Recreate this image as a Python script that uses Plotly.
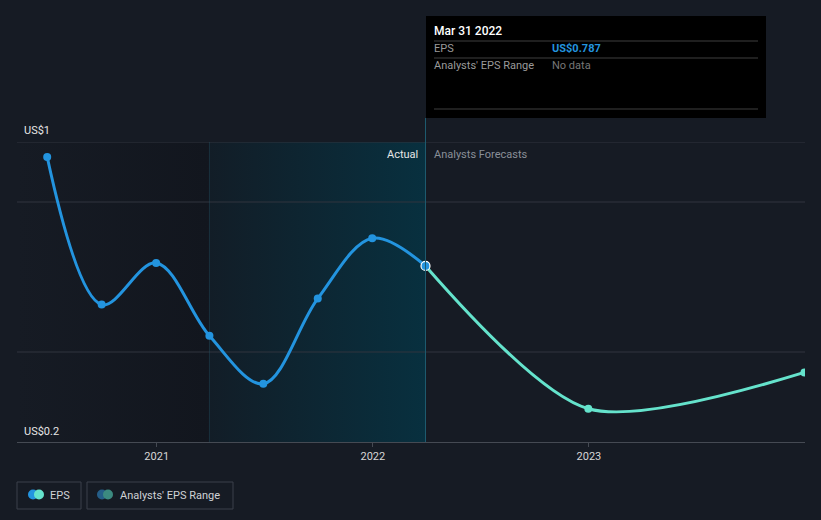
import plotly.graph_objects as go

# ---- data ----
actual_dates = ["2020-06-30", "2020-09-30", "2020-12-31", "2021-03-31",
                "2021-06-30", "2021-09-30", "2021-12-31", "2022-03-31"]
actual_eps = [1.150, 0.658, 0.797, 0.554, 0.394, 0.678, 0.879, 0.787]

forecast_dates = ["2022-03-31", "2022-12-31", "2023-12-31"]
forecast_eps = [0.787, 0.311, 0.432]

x_ticks = ["2021-01-01", "2022-01-01", "2023-01-01"]
x_tick_labels = ["2021", "2022", "2023"]
y_grid = [0.5, 1.0, 1.2]

x_start, x_end = "2020-05-10", "2024-01-01"
past_start = "2021-03-31"   # start of shaded "last year" band
today = "2022-03-31"

BG = "#161b24"
BLUE = "#2394df"
TEAL = "#65e3cc"

W, H = 821, 520
L, R, T, B = 17, 16, 142, 78
PW, PH = W - L - R, H - T - B


def px(x):
    return (x - L) / PW


def py(y):
    return (H - B - y) / PH


fig = go.Figure()

# left darker band
fig.add_trace(go.Scatter(
    x=[x_start, past_start, past_start, x_start, x_start],
    y=[0.2, 0.2, 1.2, 1.2, 0.2], mode="lines", line=dict(width=0),
    fill="toself", fillgradient=dict(type="horizontal",
                                     colorscale=[[0, "#161b24"], [1, "#12161e"]]),
    hoverinfo="skip", showlegend=False))
# shaded past-year band
fig.add_trace(go.Scatter(
    x=[past_start, today, today, past_start, past_start],
    y=[0.2, 0.2, 1.2, 1.2, 0.2], mode="lines", line=dict(width=0),
    fill="toself", fillgradient=dict(type="horizontal",
                                     colorscale=[[0, "#121d27"], [1, "#08303f"]]),
    hoverinfo="skip", showlegend=False))

# gridlines drawn above the bands
for g in y_grid:
    fig.add_trace(go.Scatter(
        x=[x_start, x_end], y=[g, g], mode="lines",
        line=dict(color="#30353e", width=1),
        hoverinfo="skip", showlegend=False))
# band edge lines
fig.add_trace(go.Scatter(
    x=[past_start, past_start], y=[0.2, 1.2], mode="lines",
    line=dict(color="rgba(40,90,110,0.35)", width=1),
    hoverinfo="skip", showlegend=False))

# forecast line
fig.add_trace(go.Scatter(
    x=forecast_dates, y=forecast_eps, mode="lines+markers",
    line=dict(color=TEAL, width=3, shape="spline", smoothing=0.8),
    marker=dict(color=TEAL, size=8),
    hoverinfo="skip", showlegend=False))
# actual line
fig.add_trace(go.Scatter(
    x=actual_dates, y=actual_eps, mode="lines+markers",
    line=dict(color=BLUE, width=3, shape="spline", smoothing=1),
    marker=dict(color=BLUE, size=8),
    hoverinfo="skip", showlegend=False))
# hovered point
fig.add_trace(go.Scatter(
    x=[actual_dates[-1]], y=[actual_eps[-1]], mode="markers",
    marker=dict(color=BLUE, size=9, line=dict(color="white", width=1.2)),
    hoverinfo="skip", showlegend=False))

shapes = []
shapes.append(dict(type="line", xref="x", yref="paper", x0=today, x1=today,
                   y0=0, y1=py(118), line=dict(color="#1d5a6e", width=1)))
# tooltip box
shapes.append(dict(type="rect", xref="paper", yref="paper",
                   x0=px(426), x1=px(766), y0=py(118), y1=py(16),
                   fillcolor="#000000", line=dict(width=0), layer="above"))
for yy in [41, 58, 109]:
    shapes.append(dict(type="line", xref="paper", yref="paper",
                       x0=px(434), x1=px(758), y0=py(yy), y1=py(yy),
                       line=dict(color="#3f3f3f", width=1), layer="above"))
# legend boxes
shapes.append(dict(type="rect", xref="paper", yref="paper",
                   x0=px(17), x1=px(81), y0=py(509), y1=py(482),
                   line=dict(color="#3a404a", width=1), fillcolor="rgba(0,0,0,0)"))
shapes.append(dict(type="rect", xref="paper", yref="paper",
                   x0=px(87), x1=px(233), y0=py(509), y1=py(482),
                   line=dict(color="#3a404a", width=1), fillcolor="rgba(0,0,0,0)"))


def circle(cx, cy, r, color):
    return dict(type="circle", xref="paper", yref="paper",
                x0=px(cx - r), x1=px(cx + r), y0=py(cy + r), y1=py(cy - r),
                fillcolor=color, line=dict(width=0))


shapes += [circle(33, 494.5, 5, BLUE), circle(39, 494.5, 5, TEAL),
           circle(102, 494.5, 5, "#255e88"), circle(108, 494.5, 5, "#3c8a80")]

ann = []


def text(x, y, s, color, size=11, anchor="left", bold=False, weight=None):
    xx = x - 2 if anchor == "left" else x + 2
    f = dict(color=color, size=size, family="Roboto")
    if weight:
        f["weight"] = weight
    ann.append(dict(xref="paper", yref="paper", x=px(xx), y=py(y),
                    text=(f"<b>{s}</b>" if bold else s),
                    showarrow=False, xanchor=anchor, yanchor="middle", font=f))


text(24, 130, "US$1", "#e6e6e6", 11)
text(24, 431, "US$0.2", "#e6e6e6", 11)
text(418, 154, "Actual", "#e6e6e6", 11, anchor="right")
text(434, 154, "Analysts Forecasts", "#8a8f98", 11)
text(434, 31, "Mar 31 2022", "#ffffff", 12, weight=500)
text(434, 49, "EPS", "#9a9a9a", 11)
text(552, 49, "US$0.787", BLUE, 11, bold=True)
text(434, 66, "Analysts' EPS Range", "#9a9a9a", 11)
text(552, 66, "No data", "#777777", 11)
text(50, 495, "EPS", "#cfd2d6", 11)
text(120, 495, "Analysts' EPS Range", "#cfd2d6", 11)

fig.update_layout(
    width=W, height=H, paper_bgcolor=BG, plot_bgcolor=BG,
    margin=dict(l=L, r=R, t=T, b=B), showlegend=False,
    shapes=shapes, annotations=ann,
    font=dict(family="Roboto", color="#d0d0d0", size=11),
    xaxis=dict(type="date", range=[x_start, x_end],
               tickvals=x_ticks, ticktext=x_tick_labels,
               showgrid=False, zeroline=False,
               showline=True, linecolor="#454a53", linewidth=1,
               ticks="outside", ticklen=4, tickcolor="#454a53",
               tickfont=dict(color="#d6d6d6", size=11, family="Roboto")),
    yaxis=dict(range=[0.2, 1.2], showticklabels=False,
               showgrid=False, zeroline=False, showline=False),
)

fig.write_html("out.html")
